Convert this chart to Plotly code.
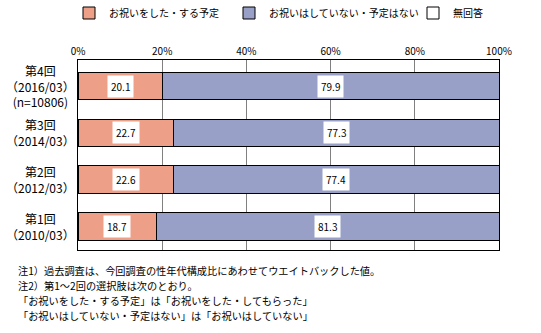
import plotly.graph_objects as go

categories = ["第4回", "第3回", "第2回", "第1回"]
cat_labels = ["第4回<br>（2016/03）<br>(n=10806)", "第3回<br>（2014/03）", "第2回<br>（2012/03）", "第1回<br>（2010/03）"]
series_names = ["お祝いをした・する予定", "お祝いはしていない・予定はない", "無回答"]
did = [20.1, 22.7, 22.6, 18.7]
did_not = [79.9, 77.3, 77.4, 81.3]
no_answer = [0, 0, 0, 0]
tick_vals = [0, 20, 40, 60, 80, 100]
tick_text = ["0%", "20%", "40%", "60%", "80%", "100%"]
notes = [
    "注1）過去調査は、今回調査の性年代構成比にあわせてウエイトバックした値。",
    "注2）第1～2回の選択肢は次のとおり。",
    "「お祝いをした・する予定」は「お祝いをした・してもらった」",
    "「お祝いはしていない・予定はない」は「お祝いはしていない」",
]
colors = ["#EE9F88", "#99A0C7", "#FFFFFF"]

FONT = "Noto Sans CJK JP"
fig = go.Figure()
series = [did, did_not, no_answer]
legends = ["legend", "legend2", "legend3"]
for name, vals, col, lg in zip(series_names, series, colors, legends):
    fig.add_trace(go.Bar(
        y=categories, x=vals, name=name, orientation="h",
        marker=dict(color=col, line=dict(color="black", width=1)),
        legend=lg,
    ))

annotations = []
for cat, a, b in zip(categories, did, did_not):
    for xv, v in ((a / 2, a), (a + b / 2, b)):
        annotations.append(dict(
            x=xv, y=cat, xref="x", yref="y", text=f"{v:.1f}", showarrow=False,
            bgcolor="white", borderpad=3, font=dict(size=10, color="black", family=FONT),
        ))
for cat, lab in zip(categories, cat_labels):
    annotations.append(dict(
        x=-0.09, y=cat, xref="paper", yref="y", text=lab, showarrow=False,
        xanchor="center", align="center", font=dict(size=12, color="black", family=FONT),
    ))
for i, line in enumerate(notes):
    annotations.append(dict(
        x=(16 - 78) / 421, y=(250 - 270.5 - 15 * i) / 190, xref="paper", yref="paper",
        text=line, showarrow=False, xanchor="left", yanchor="middle",
        font=dict(size=10.2, color="black", family=FONT),
    ))

def leg(xpx):
    return dict(x=(xpx - 78) / 421, y=(250 - 13) / 190, xanchor="left", yanchor="middle",
                orientation="h", font=dict(size=10, family=FONT, color="black"),
                bgcolor="rgba(0,0,0,0)", itemwidth=30, tracegroupgap=0)

fig.update_layout(
    width=541, height=333,
    margin=dict(l=78, r=42, t=60, b=83, autoexpand=False),
    paper_bgcolor="white", plot_bgcolor="white",
    barmode="stack", bargap=0.41,
    font=dict(family=FONT, size=10, color="black"),
    xaxis=dict(range=[0, 100], side="top", tickvals=tick_vals, ticktext=tick_text,
               showgrid=True, gridcolor="#808080", gridwidth=1, zeroline=False,
               showline=True, linecolor="black", linewidth=1, mirror=True,
               tickfont=dict(size=10, family=FONT), ticks="", fixedrange=True),
    yaxis=dict(categoryorder="array", categoryarray=categories[::-1], autorange=True,
               showticklabels=False, showgrid=False, zeroline=False,
               showline=True, linecolor="black", linewidth=1, mirror=True, ticks=""),
    legend=leg(69), legend2=leg(229), legend3=leg(413),
    annotations=annotations,
    showlegend=True,
)
fig.write_html("out.html")
